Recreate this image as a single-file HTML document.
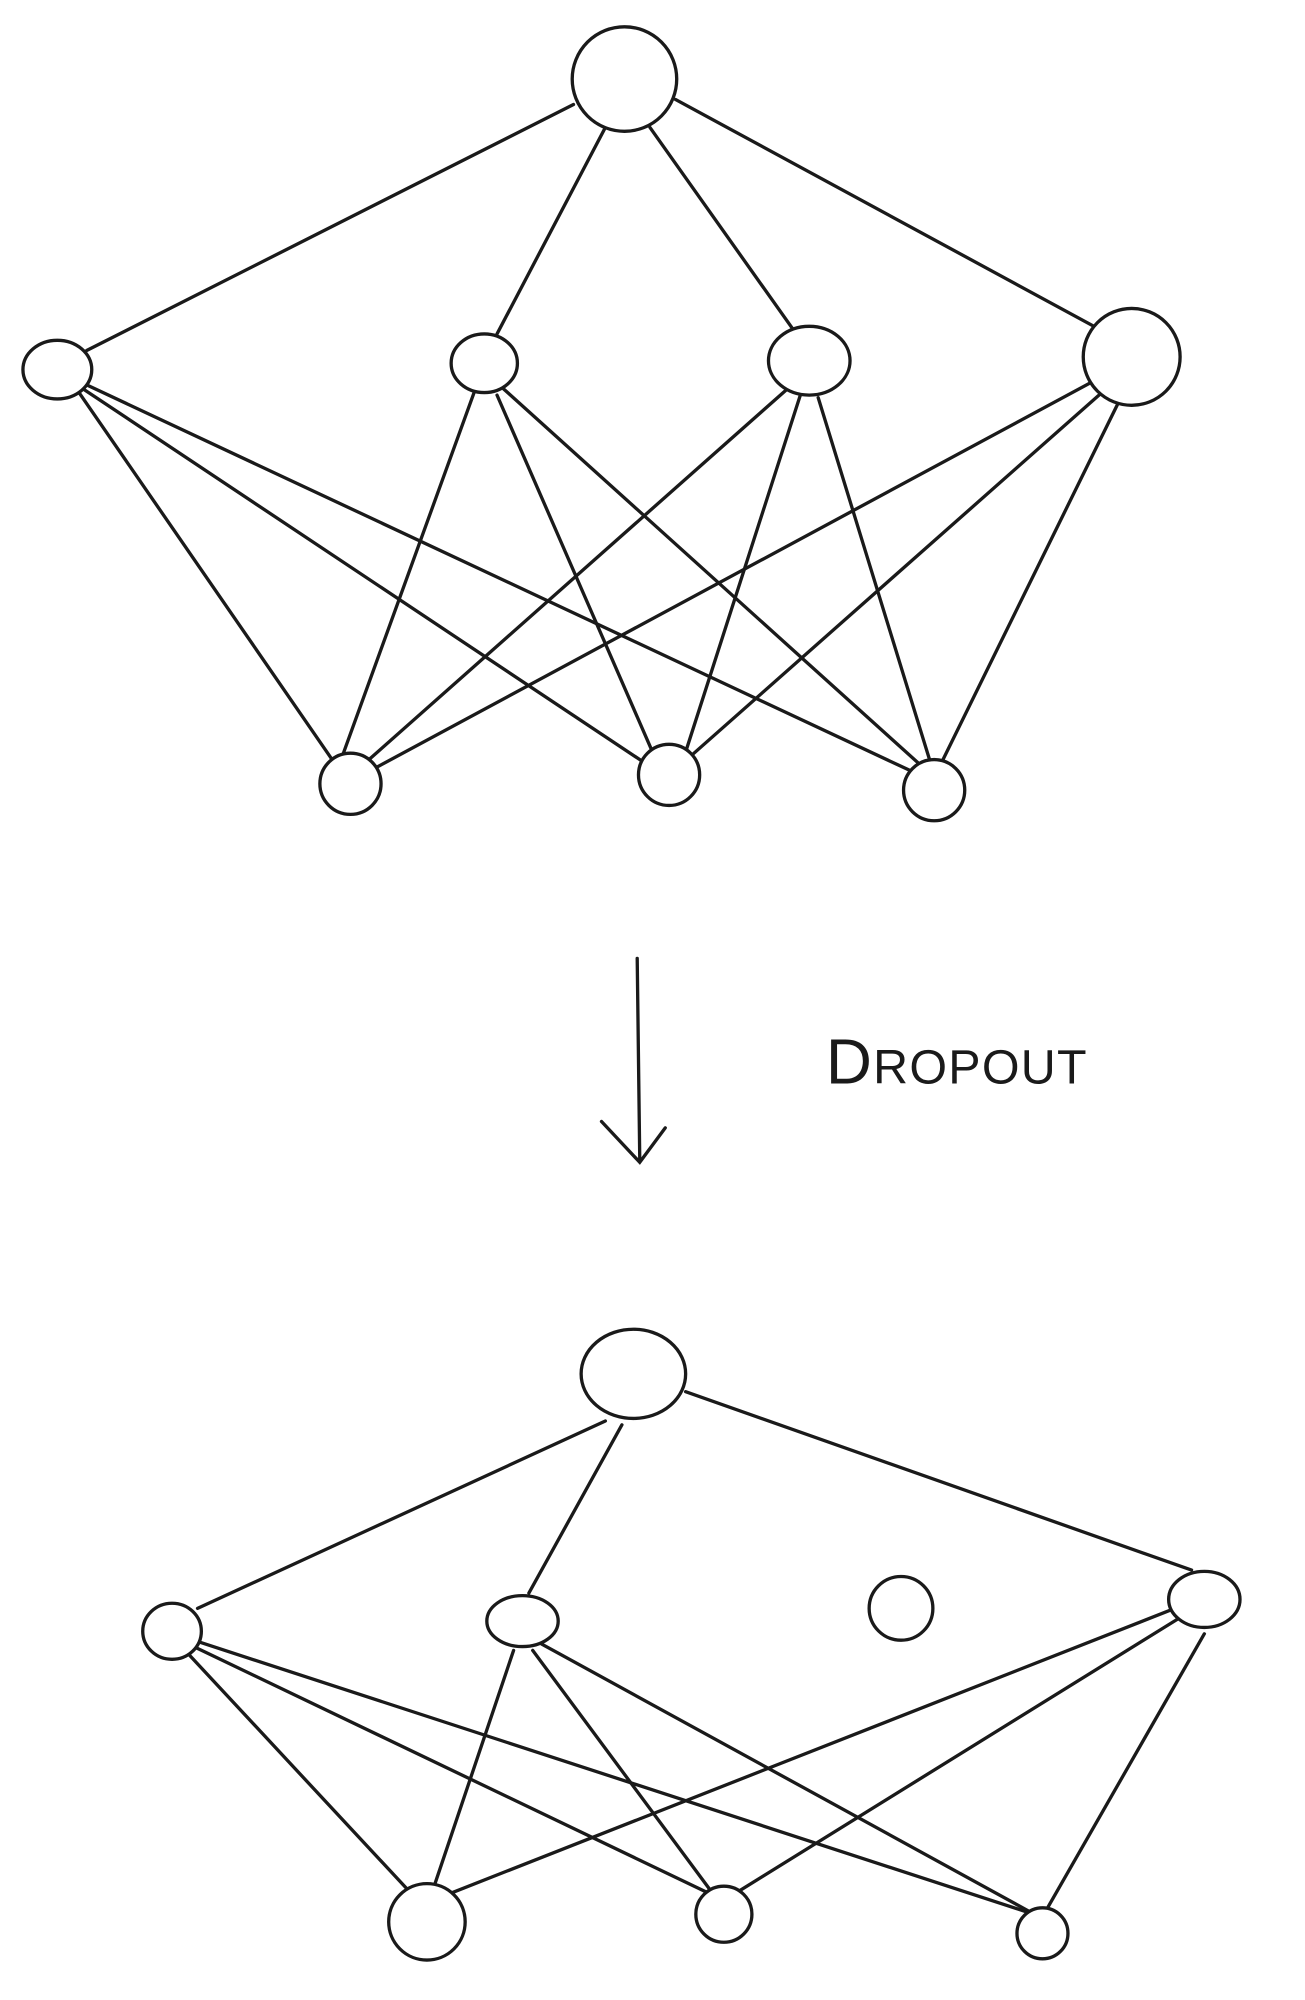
<!DOCTYPE html>
<html><head><meta charset="utf-8"><style>
html,body{margin:0;padding:0;background:#fff;}
svg{display:block;}
</style></head><body>
<svg width="1305" height="2000" viewBox="0 0 1024 1569.3" xmlns="http://www.w3.org/2000/svg">
<rect width="1024" height="1570" fill="#fff"/>
<g stroke="#1a1a1a" stroke-width="2.6" fill="none" stroke-linecap="round">
<!-- top network edges -->
<line x1="450" y1="82" x2="68" y2="275"/>
<line x1="475" y1="100" x2="390" y2="262"/>
<line x1="510" y1="100" x2="622" y2="258"/>
<line x1="530" y1="78" x2="862" y2="258"/>
<line x1="62" y1="308" x2="262" y2="598"/>
<line x1="65" y1="305" x2="505" y2="598"/>
<line x1="68" y1="302" x2="715" y2="605"/>
<line x1="372" y1="308" x2="268" y2="595"/>
<line x1="390" y1="310" x2="512" y2="590"/>
<line x1="395" y1="305" x2="722" y2="600"/>
<line x1="618" y1="305" x2="285" y2="600"/>
<line x1="628" y1="310" x2="538" y2="590"/>
<line x1="642" y1="312" x2="730" y2="598"/>
<line x1="860" y1="298" x2="290" y2="605"/>
<line x1="868" y1="305" x2="540" y2="595"/>
<line x1="878" y1="315" x2="738" y2="600"/>
<!-- top nodes -->
<circle cx="490" cy="62" r="41" fill="#fff"/>
<ellipse cx="45" cy="290" rx="27" ry="23" fill="#fff"/>
<ellipse cx="380" cy="285" rx="26" ry="23" fill="#fff"/>
<ellipse cx="635" cy="283" rx="32" ry="27" fill="#fff"/>
<circle cx="888" cy="280" r="38" fill="#fff"/>
<circle cx="275" cy="615" r="24" fill="#fff"/>
<circle cx="525" cy="608" r="24" fill="#fff"/>
<circle cx="733" cy="620" r="24" fill="#fff"/>
<!-- arrow -->
<line x1="500" y1="752" x2="502" y2="910"/>
<polyline points="472,880 502,912 522,885"/>
<!-- bottom network edges -->
<line x1="475" y1="1115" x2="155" y2="1262"/>
<line x1="488" y1="1118" x2="415" y2="1250"/>
<line x1="538" y1="1092" x2="935" y2="1232"/>
<line x1="148" y1="1298" x2="322" y2="1485"/>
<line x1="152" y1="1292" x2="555" y2="1485"/>
<line x1="155" y1="1288" x2="805" y2="1500"/>
<line x1="403" y1="1295" x2="340" y2="1482"/>
<line x1="418" y1="1295" x2="558" y2="1484"/>
<line x1="425" y1="1290" x2="808" y2="1500"/>
<line x1="922" y1="1262" x2="355" y2="1485"/>
<line x1="928" y1="1268" x2="578" y2="1485"/>
<line x1="945" y1="1282" x2="822" y2="1497"/>
<!-- bottom nodes -->
<ellipse cx="497" cy="1078" rx="41" ry="35" fill="#fff"/>
<ellipse cx="135" cy="1280" rx="23" ry="22" fill="#fff"/>
<ellipse cx="410" cy="1272" rx="28" ry="20" fill="#fff"/>
<circle cx="707" cy="1262" r="25" fill="#fff"/>
<ellipse cx="945" cy="1255" rx="28" ry="22" fill="#fff"/>
<circle cx="335" cy="1508" r="30" fill="#fff"/>
<circle cx="568" cy="1502" r="22" fill="#fff"/>
<circle cx="818" cy="1517" r="20" fill="#fff"/>
</g>
<text x="648" y="850" font-family="Liberation Sans, sans-serif" font-size="50" fill="#1a1a1a" letter-spacing="1">D<tspan font-size="38">ROPOUT</tspan></text>
</svg>
</body></html>
